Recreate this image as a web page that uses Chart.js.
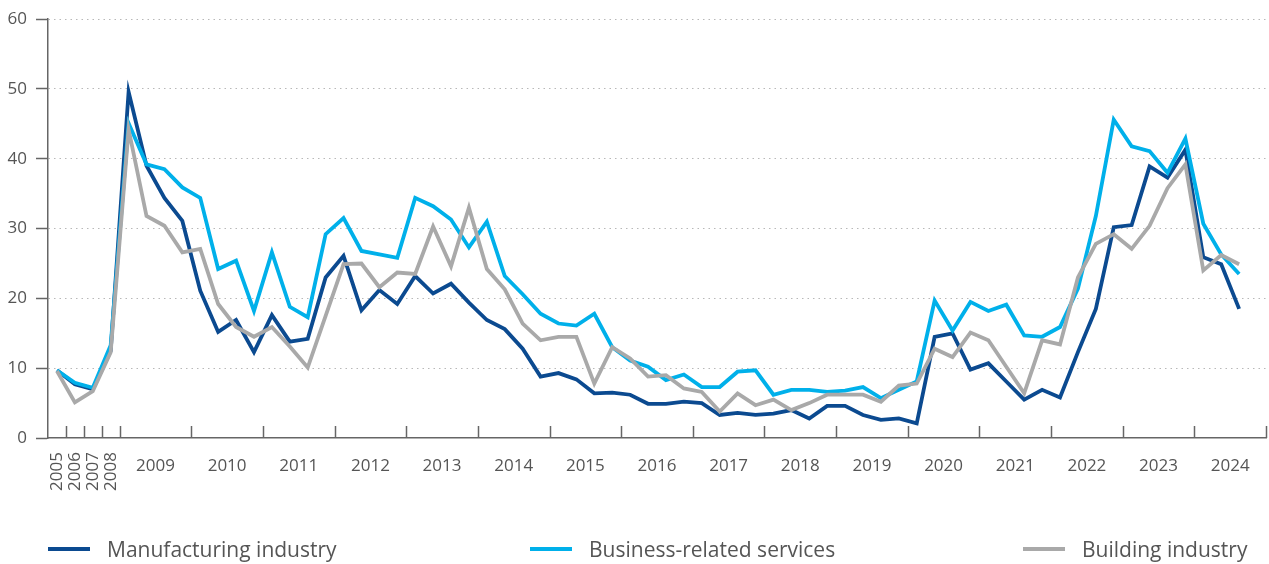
<!DOCTYPE html>
<html>
<head>
<meta charset="utf-8">
<script src="https://cdn.jsdelivr.net/npm/chart.js@4.4.1/dist/chart.umd.min.js"></script>
<style>
  body { margin: 0; background: #fff; }
  #wrap { position: relative; width: 1269px; height: 564px; }
  #chart { position: absolute; left: 0; top: 0; }
  .legend-item { position: absolute; top: 535px; height: 28px; display: flex; align-items: center;
    font-family: "Open Sans", sans-serif; font-size: 21px; color: #555; white-space: nowrap; }
  .legend-item .swatch { width: 42px; height: 4px; margin-right: 17px; }
</style>
</head>
<body>
<div id="wrap">
  <canvas id="chart" width="1269" height="564"></canvas>
  <div id="legend"></div>
</div>
<script>
// categories: 2005-2008 yearly, then quarterly from 2009
const annualYears = ["2005", "2006", "2007", "2008"]
const quarterYears = ["2009", "2010", "2011", "2012", "2013", "2014", "2015", "2016",
  "2017", "2018", "2019", "2020", "2021", "2022", "2023", "2024"]
const yTicks = [0, 10, 20, 30, 40, 50, 60]

const manufacturing = [
  9.7, 7.7, 7.0, 12.5,
  49.6, 39.0, 34.4, 31.1,
  21.1, 15.2, 16.9, 12.3,
  17.6, 13.8, 14.2, 23.0,
  26.1, 18.3, 21.2, 19.2,
  23.2, 20.7, 22.1, 19.4,
  16.9, 15.6, 12.8, 8.8,
  9.3, 8.4, 6.4, 6.5,
  6.2, 4.9, 4.9, 5.2,
  5.0, 3.3, 3.6, 3.3,
  3.5, 4.0, 2.8, 4.6,
  4.6, 3.3, 2.6, 2.8,
  2.1, 14.5, 15.0, 9.8,
  10.7, 8.1, 5.5, 6.9,
  5.8, 12.3, 18.5, 30.2,
  30.5, 38.9, 37.3, 41.3,
  25.9, 24.9, 18.5
]
const services = [
  9.7, 7.9, 7.2, 13.3,
  45.1, 39.2, 38.5, 35.9,
  34.4, 24.2, 25.4, 18.2,
  26.6, 18.8, 17.3, 29.2,
  31.5, 26.8, 26.3, 25.8,
  34.4, 33.2, 31.3, 27.3,
  31.0, 23.2, 20.6, 17.8,
  16.4, 16.1, 17.8, 13.0,
  11.1, 10.2, 8.3, 9.1,
  7.3, 7.3, 9.5, 9.7,
  6.2, 6.9, 6.9, 6.6,
  6.8, 7.3, 5.7, 6.9,
  8.1, 19.7, 15.4, 19.5,
  18.2, 19.1, 14.7, 14.5,
  15.9, 21.4, 31.8, 45.6,
  41.8, 41.1, 38.0, 42.9,
  30.7, 26.3, 23.5
]
const building = [
  9.6, 5.1, 6.7, 12.3,
  44.2, 31.8, 30.4, 26.6,
  27.1, 19.2, 15.9, 14.5,
  15.9, 13.1, 10.1, 17.5,
  24.9, 25.0, 21.6, 23.7,
  23.5, 30.3, 24.6, 33.0,
  24.2, 21.3, 16.4, 14.0,
  14.5, 14.5, 7.8, 13.0,
  11.4, 8.8, 9.0, 7.1,
  6.6, 3.8, 6.4, 4.7,
  5.5, 4.0, 5.0, 6.2,
  6.2, 6.2, 5.2, 7.5,
  7.8, 12.8, 11.6, 15.1,
  14.0, 10.2, 6.4, 14.0,
  13.4, 23.0, 27.8, 29.2,
  27.1, 30.4, 35.8, 39.2,
  24.0, 26.2, 24.9
]

const seriesNames = ["Manufacturing industry", "Business-related services", "Building industry"]
const seriesColors = ["#0b4a90", "#00b0ea", "#a9a9a9"]
const legendLeft = [48, 530, 1023]

const axisColor = "#666"
const textColor = "#555"
const fontFamily = "'Open Sans', sans-serif"

const categories = annualYears.concat(
  quarterYears.flatMap((y) => [y + " Q1", y + " Q2", y + " Q3", y + " Q4"])
)

// x axis tick marks (inside) and labels, drawn through the category scale
const xAxisMarks = {
  id: "xAxisMarks",
  beforeDatasetsDraw(chart) {
    const { ctx, chartArea } = chart
    const x = chart.scales.x
    const half = (x.getPixelForValue(1) - x.getPixelForValue(0)) / 2
    const bounds = [0, 1, 2, 3]
    quarterYears.forEach((y, k) => bounds.push(annualYears.length + k * 4 + 3))
    ctx.save()
    ctx.strokeStyle = axisColor
    ctx.lineWidth = 1.5
    bounds.forEach((i) => {
      const px = Math.round(x.getPixelForValue(i) + half) + 0.5
      ctx.beginPath()
      ctx.moveTo(px, chartArea.bottom)
      ctx.lineTo(px, chartArea.bottom - 12)
      ctx.stroke()
    })
    ctx.restore()
  },
  afterDraw(chart) {
    const { ctx, chartArea } = chart
    const x = chart.scales.x
    const half = (x.getPixelForValue(1) - x.getPixelForValue(0)) / 2
    ctx.save()
    ctx.fillStyle = textColor
    ctx.font = "17px " + fontFamily
    annualYears.forEach((y, i) => {
      ctx.save()
      ctx.translate(x.getPixelForValue(i), chartArea.bottom + 14)
      ctx.rotate(-Math.PI / 2)
      ctx.textAlign = "right"
      ctx.textBaseline = "middle"
      ctx.fillText(y, 0, 0)
      ctx.restore()
    })
    ctx.textAlign = "center"
    ctx.textBaseline = "middle"
    quarterYears.forEach((y, k) => {
      const i = annualYears.length + k * 4 + 1
      ctx.fillText(y, x.getPixelForValue(i) + half, chartArea.bottom + 28)
    })
    ctx.restore()
  },
}

const datasets = [manufacturing, services, building].map((data, k) => ({
  label: seriesNames[k],
  data: data,
  borderColor: seriesColors[k],
  backgroundColor: seriesColors[k],
  borderWidth: 3.8,
  pointRadius: 0,
  tension: 0,
  fill: false,
}))
// draw grey first, dark blue on top
datasets.reverse()

new Chart(document.getElementById("chart"), {
  type: "line",
  data: { labels: categories, datasets: datasets },
  options: {
    responsive: false,
    animation: false,
    layout: { padding: { top: 16, right: 3, left: 0, bottom: 0 } },
    plugins: { legend: { display: false }, tooltip: { enabled: false } },
    scales: {
      x: {
        type: "category",
        offset: true,
        grid: { display: false },
        ticks: { display: false },
        border: { color: axisColor, width: 1.5 },
        afterFit: (scale) => { scale.height = 126 },
      },
      y: {
        min: 0,
        max: 60,
        afterBuildTicks: (scale) => { scale.ticks = yTicks.map((v) => ({ value: v })) },
        afterFit: (scale) => { scale.width = 48 },
        ticks: {
          color: textColor,
          padding: 9,
          font: { family: "Open Sans", size: 17 },
        },
        grid: {
          color: (c) => (c.tick && c.tick.value === 0 ? "rgba(0,0,0,0)" : "#b8b8b8"),
          lineWidth: 1,
          tickLength: 12,
          tickColor: axisColor,
          tickWidth: 1.5,
          tickBorderDash: [],
        },
        border: { color: axisColor, width: 1.5, dash: [1.5, 4] },
      },
    },
  },
  plugins: [xAxisMarks],
})

// legend
const legend = document.getElementById("legend")
seriesNames.forEach((name, k) => {
  const item = document.createElement("div")
  item.className = "legend-item"
  item.style.left = legendLeft[k] + "px"
  const sw = document.createElement("span")
  sw.className = "swatch"
  sw.style.background = seriesColors[k]
  const txt = document.createElement("span")
  txt.textContent = name
  item.appendChild(sw)
  item.appendChild(txt)
  legend.appendChild(item)
})
</script>
</body>
</html>
